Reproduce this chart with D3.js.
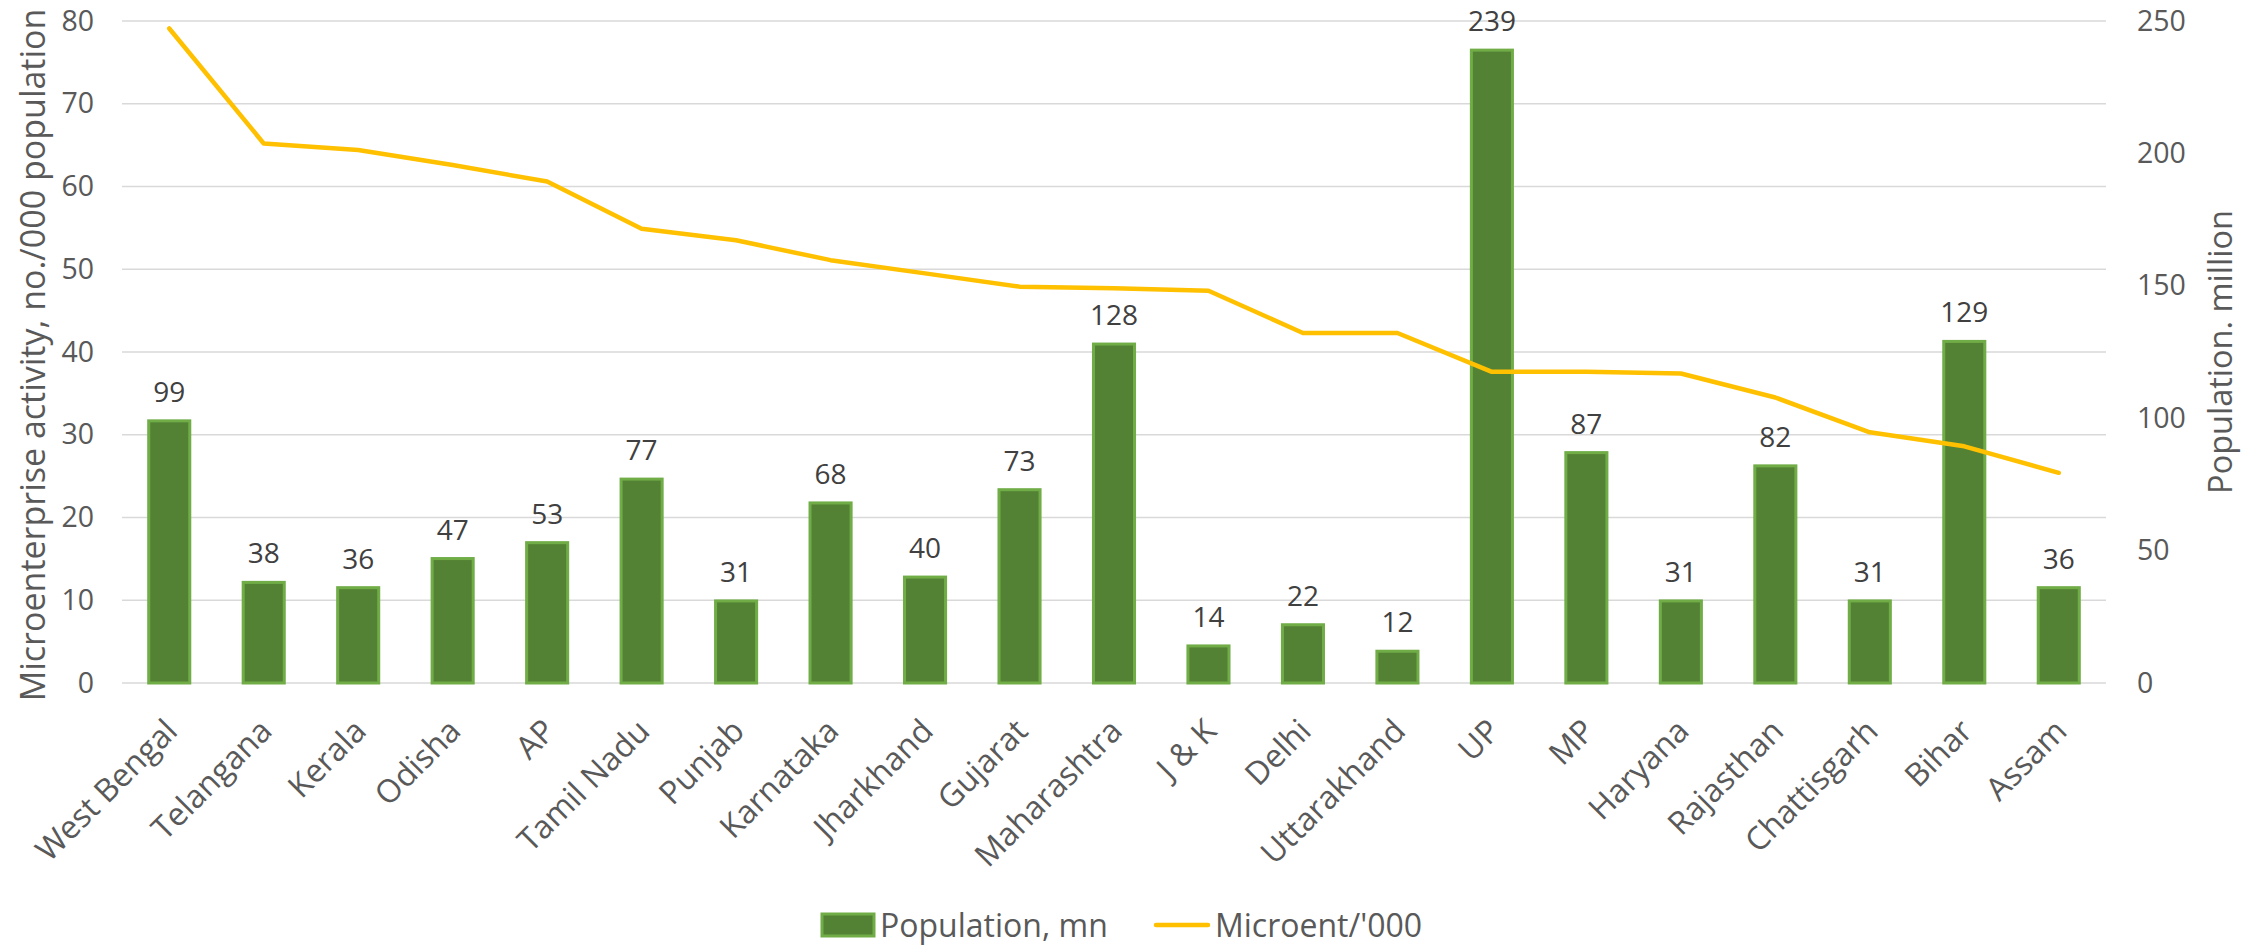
<!DOCTYPE html>
<html>
<head>
<meta charset="utf-8">
<script src="https://cdnjs.cloudflare.com/ajax/libs/d3/7.8.5/d3.min.js"></script>
<style>
  html, body { margin: 0; padding: 0; background: #fff; }
  svg { display: block; font-family: "Open Sans", sans-serif; }
</style>
</head>
<body>
<svg id="chart" width="2259" height="946"></svg>
<script>
const categories = ["West Bengal","Telangana","Kerala","Odisha","AP","Tamil Nadu","Punjab","Karnataka","Jharkhand","Gujarat","Maharashtra","J & K","Delhi","Uttarakhand","UP","MP","Haryana","Rajasthan","Chattisgarh","Bihar","Assam"];
const population = [99,38,36,47,53,77,31,68,40,73,128,14,22,12,239,87,31,82,31,129,36];
const microent = [79.1,65.2,64.4,62.6,60.6,54.9,53.5,51.1,49.5,47.9,47.7,47.4,42.3,42.3,37.6,37.6,37.4,34.5,30.3,28.6,25.4];
const leftTicks = [0,10,20,30,40,50,60,70,80];
const rightTicks = [0,50,100,150,200,250];
const leftTitle = "Microenterprise activity, no./000 population";
const rightTitle = "Population. million";
const legendLabels = ["Population, mn", "Microent/'000"];

const W = 2259, H = 946;
const m = { left: 122, right: 2106, top: 21, bottom: 683 };
const svg = d3.select("#chart");

const gap = 1.3 / 2.3;
const x = d3.scaleBand().domain(categories).range([m.left, m.right]).paddingInner(gap).paddingOuter(gap / 2);
const yL = d3.scaleLinear().domain([0, 80]).range([m.bottom, m.top]);
const yR = d3.scaleLinear().domain([0, 250]).range([m.bottom, m.top]);

// gridlines
svg.append("g").selectAll("line").data(leftTicks).join("line")
  .attr("x1", m.left).attr("x2", m.right)
  .attr("y1", d => yL(d)).attr("y2", d => yL(d))
  .attr("stroke", "#D9D9D9").attr("stroke-width", 1.5);

// left axis
const axL = svg.append("g").attr("transform", `translate(${m.left - 28},0)`)
  .call(d3.axisLeft(yL).tickValues(leftTicks).tickSize(0).tickPadding(0));
axL.select(".domain").remove();
axL.selectAll("text").attr("font-size", 28.5).attr("fill", "#595959").attr("font-family", "Open Sans");

// right axis
const axR = svg.append("g").attr("transform", `translate(${m.right + 31},0)`)
  .call(d3.axisRight(yR).tickValues(rightTicks).tickSize(0).tickPadding(0));
axR.select(".domain").remove();
axR.selectAll("text").attr("font-size", 28.5).attr("fill", "#595959").attr("font-family", "Open Sans");

// bars
svg.append("g").selectAll("rect").data(categories).join("rect")
  .attr("x", d => x(d)).attr("width", x.bandwidth())
  .attr("y", (d, i) => yR(population[i]))
  .attr("height", (d, i) => yR(0) - yR(population[i]))
  .attr("fill", "#548235").attr("stroke", "#70AD47").attr("stroke-width", 3);

// bar labels
svg.append("g").selectAll("text").data(categories).join("text")
  .attr("x", d => x(d) + x.bandwidth() / 2)
  .attr("y", (d, i) => yR(population[i]) - 19)
  .attr("text-anchor", "middle").attr("font-size", 28).attr("fill", "#404040")
  .text((d, i) => population[i]);

// line
const line = d3.line().x((d, i) => x(categories[i]) + x.bandwidth() / 2).y(d => yL(d));
svg.append("path").datum(microent).attr("d", line)
  .attr("fill", "none").attr("stroke", "#FFC000").attr("stroke-width", 4.5)
  .attr("stroke-linejoin", "round").attr("stroke-linecap", "round");

// x labels
svg.append("g").selectAll("text").data(categories).join("text")
  .attr("transform", d => `translate(${x(d) + x.bandwidth() / 2 + 10},${m.bottom + 50}) rotate(-45)`)
  .attr("text-anchor", "end").attr("font-size", 32).attr("fill", "#595959")
  .text(d => d);

// axis titles
svg.append("text").attr("transform", `translate(32,${(m.top + m.bottom) / 2 + 3}) rotate(-90)`)
  .attr("text-anchor", "middle").attr("dominant-baseline", "central")
  .attr("font-size", 34).attr("fill", "#595959").text(leftTitle);
svg.append("text").attr("transform", `translate(2219,${(m.top + m.bottom) / 2}) rotate(-90)`)
  .attr("text-anchor", "middle").attr("dominant-baseline", "central")
  .attr("font-size", 32.5).attr("fill", "#595959").text(rightTitle);

// legend
const lg = svg.append("g");
lg.append("rect").attr("x", 822).attr("y", 914).attr("width", 52).attr("height", 22)
  .attr("fill", "#548235").attr("stroke", "#70AD47").attr("stroke-width", 3);
lg.append("text").attr("x", 880).attr("y", 937)
  .attr("font-size", 32).attr("fill", "#595959").text(legendLabels[0]);
lg.append("line").attr("x1", 1156).attr("x2", 1208).attr("y1", 925).attr("y2", 925)
  .attr("stroke", "#FFC000").attr("stroke-width", 4.5).attr("stroke-linecap", "round");
lg.append("text").attr("x", 1215).attr("y", 937)
  .attr("font-size", 32).attr("fill", "#595959").text(legendLabels[1]);
</script>
</body>
</html>
